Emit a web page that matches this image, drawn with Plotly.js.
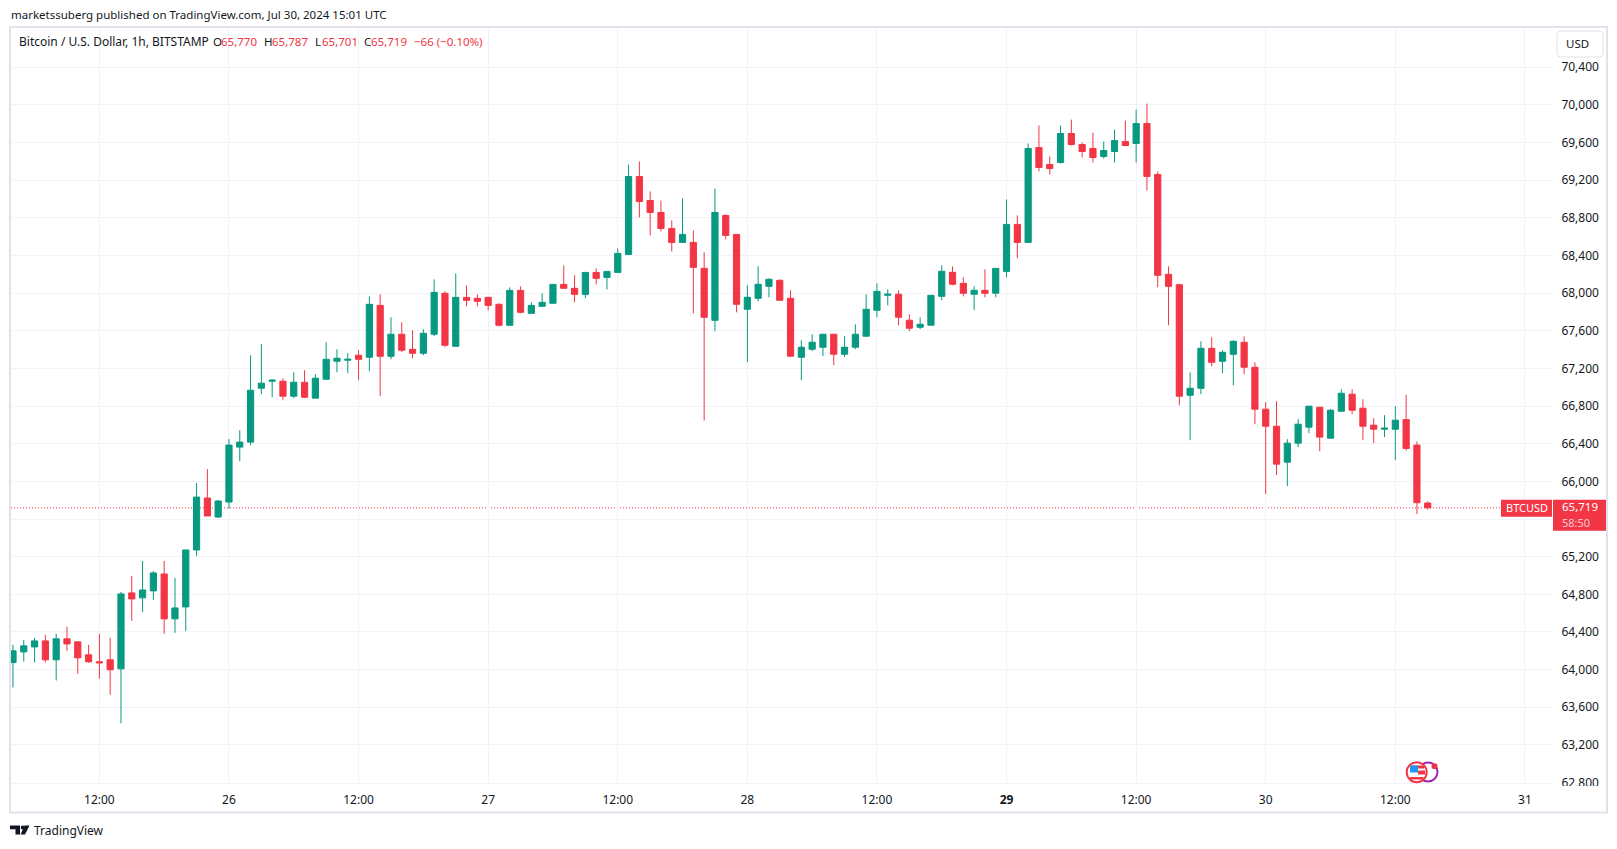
<!DOCTYPE html>
<html><head><meta charset="utf-8">
<script src="https://cdn.plot.ly/plotly-3.0.1.min.js"></script>
<style>html,body{margin:0;padding:0;background:#fff;overflow:hidden}#c{width:1617px;height:849px}</style>
</head><body><div id="c"></div>
<script>
const times = [
"2024-07-25 04:00","2024-07-25 05:00","2024-07-25 06:00","2024-07-25 07:00","2024-07-25 08:00","2024-07-25 09:00","2024-07-25 10:00","2024-07-25 11:00","2024-07-25 12:00","2024-07-25 13:00","2024-07-25 14:00","2024-07-25 15:00","2024-07-25 16:00","2024-07-25 17:00","2024-07-25 18:00","2024-07-25 19:00","2024-07-25 20:00","2024-07-25 21:00","2024-07-25 22:00","2024-07-25 23:00",
"2024-07-26 00:00","2024-07-26 01:00","2024-07-26 02:00","2024-07-26 03:00","2024-07-26 04:00","2024-07-26 05:00","2024-07-26 06:00","2024-07-26 07:00","2024-07-26 08:00","2024-07-26 09:00","2024-07-26 10:00","2024-07-26 11:00","2024-07-26 12:00","2024-07-26 13:00","2024-07-26 14:00","2024-07-26 15:00","2024-07-26 16:00","2024-07-26 17:00","2024-07-26 18:00","2024-07-26 19:00","2024-07-26 20:00","2024-07-26 21:00","2024-07-26 22:00","2024-07-26 23:00",
"2024-07-27 00:00","2024-07-27 01:00","2024-07-27 02:00","2024-07-27 03:00","2024-07-27 04:00","2024-07-27 05:00","2024-07-27 06:00","2024-07-27 07:00","2024-07-27 08:00","2024-07-27 09:00","2024-07-27 10:00","2024-07-27 11:00","2024-07-27 12:00","2024-07-27 13:00","2024-07-27 14:00","2024-07-27 15:00","2024-07-27 16:00","2024-07-27 17:00","2024-07-27 18:00","2024-07-27 19:00","2024-07-27 20:00","2024-07-27 21:00","2024-07-27 22:00","2024-07-27 23:00",
"2024-07-28 00:00","2024-07-28 01:00","2024-07-28 02:00","2024-07-28 03:00","2024-07-28 04:00","2024-07-28 05:00","2024-07-28 06:00","2024-07-28 07:00","2024-07-28 08:00","2024-07-28 09:00","2024-07-28 10:00","2024-07-28 11:00","2024-07-28 12:00","2024-07-28 13:00","2024-07-28 14:00","2024-07-28 15:00","2024-07-28 16:00","2024-07-28 17:00","2024-07-28 18:00","2024-07-28 19:00","2024-07-28 20:00","2024-07-28 21:00","2024-07-28 22:00","2024-07-28 23:00",
"2024-07-29 00:00","2024-07-29 01:00","2024-07-29 02:00","2024-07-29 03:00","2024-07-29 04:00","2024-07-29 05:00","2024-07-29 06:00","2024-07-29 07:00","2024-07-29 08:00","2024-07-29 09:00","2024-07-29 10:00","2024-07-29 11:00","2024-07-29 12:00","2024-07-29 13:00","2024-07-29 14:00","2024-07-29 15:00","2024-07-29 16:00","2024-07-29 17:00","2024-07-29 18:00","2024-07-29 19:00","2024-07-29 20:00","2024-07-29 21:00","2024-07-29 22:00","2024-07-29 23:00",
"2024-07-30 00:00","2024-07-30 01:00","2024-07-30 02:00","2024-07-30 03:00","2024-07-30 04:00","2024-07-30 05:00","2024-07-30 06:00","2024-07-30 07:00","2024-07-30 08:00","2024-07-30 09:00","2024-07-30 10:00","2024-07-30 11:00","2024-07-30 12:00","2024-07-30 13:00","2024-07-30 14:00","2024-07-30 15:00"];
const opens = [64075,64188,64241,64305,64104,64327,64295,64157,64083,64104,64008,64815,64762,64836,65016,64539,64666,65271,65823,65621,
65780,66364,66417,66990,67064,67064,66905,67053,66884,67085,67276,67287,67340,67319,67870,67329,67563,67403,67361,67563,67998,67435,67955,67945,
67955,67881,67658,68029,67785,67860,67892,68093,68051,67987,68220,68167,68220,68411,69239,68984,68857,68687,68539,68539,68263,67711,68825,68624,
67828,67945,68072,68136,67945,67319,67404,67425,67563,67351,67425,67542,67818,67977,67988,67712,67637,67659,67966,68221,68104,67988,68030,68000,
68231,68730,68539,69547,69367,69388,69696,69579,69537,69452,69505,69611,69590,69802,69261,68200,68089,66915,66989,67414,67276,67350,67478,67212,
66767,66586,66204,66406,66576,66788,66459,66745,66926,66777,66597,66554,66554,66656,66385,65770];
const highs = [64263,64316,64337,64369,64380,64454,64295,64263,64380,64337,64825,64995,65154,65048,65154,64974,65271,65982,66130,65801,
66449,66544,67340,67457,67085,67096,67159,67181,67138,67478,67403,67361,67393,67966,67987,67743,67690,67605,67616,68146,68019,68210,68083,67987,
67955,67892,68061,68072,67902,67998,68093,68295,68189,68220,68263,68231,68475,69366,69398,69080,68984,68772,69006,68666,68433,69112,68836,68624,
68083,68285,68157,68147,68030,67499,67563,67563,67563,67542,67669,67988,68104,68041,68030,67775,67743,67977,68295,68285,68168,68072,68253,68263,
68995,68826,69590,69781,69452,69781,69844,69600,69706,69611,69738,69834,69950,70014,69293,68284,68100,67159,67488,67531,67393,67499,67541,67265,
66841,66852,66448,66661,66799,66788,66767,66979,66979,66873,66671,66703,66799,66919,66423,65787];
const lows = [63810,64086,64075,64075,63884,64199,63955,64072,63902,63732,63430,64518,64613,64740,64380,64390,64411,65207,65632,65610,
65709,66215,66385,66926,66894,66862,66884,66884,66884,67085,67159,67149,67075,67170,66905,67297,67372,67308,67340,67542,67425,67435,67860,67860,
67817,67647,67658,67785,67785,67860,67892,68051,67902,67945,68093,68040,68220,68411,68804,68613,68655,68443,68539,67785,66645,67594,68571,67796,
67266,67913,67956,67924,67330,67075,67383,67330,67234,67319,67404,67542,67743,67871,67659,67595,67616,67659,67924,68083,67966,67818,67956,67956,
68168,68369,68539,69293,69261,69377,69568,69441,69388,69430,69388,69568,69388,69091,68062,67658,66809,66438,66926,67223,67149,67021,67138,66607,
65865,66066,65950,66363,66512,66321,66459,66745,66714,66438,66406,66470,66225,66328,65653,65701];
const closes = [64199,64252,64305,64104,64327,64273,64125,64083,64072,63998,64804,64751,64846,65027,64539,64655,65271,65833,65632,65791,
66385,66417,66968,67043,67075,66905,67053,66894,67096,67297,67308,67297,67297,67881,67329,67563,67393,67361,67573,68008,67446,67955,67923,67913,
67870,67658,68029,67796,67870,67902,68093,68051,67987,68220,68157,68231,68422,69239,68974,68857,68687,68539,68624,68274,67743,68857,68613,67881,
67956,68094,68147,67924,67330,67425,67478,67563,67351,67425,67563,67828,68019,67988,67744,67627,67669,67977,68232,68094,67998,68030,67998,68263,
68730,68539,69537,69335,69324,69696,69579,69505,69441,69515,69621,69568,69802,69240,68189,68072,66905,66989,67414,67265,67371,67488,67212,66767,
66586,66183,66406,66607,66799,66470,66756,66936,66756,66586,66554,66565,66650,66350,65773,65719];
const timeTickVals = ["2024-07-25 12:00","2024-07-26 00:00","2024-07-26 12:00","2024-07-27 00:00","2024-07-27 12:00","2024-07-28 00:00","2024-07-28 12:00","2024-07-29 00:00","2024-07-29 12:00","2024-07-30 00:00","2024-07-30 12:00","2024-07-31 00:00"];
const timeTickText = ["12:00","26","12:00","27","12:00","28","12:00","<b>29</b>","12:00","30","12:00","31"];
const priceTickVals = [62800,63200,63600,64000,64400,64800,65200,65600,66000,66400,66800,67200,67600,68000,68400,68800,69200,69600,70000,70400];
const priceTickText = ["62,800","63,200","63,600","64,000","64,400","64,800","65,200","","66,000","66,400","66,800","67,200","67,600","68,000","68,400","68,800","69,200","69,600","70,000","70,400"];
const lastPrice = 65719;

const INK='#131722', RED='#f23645', GREEN='#089981', GRID='#f0f3fa', FRAME='#e0e3eb';
const W=1617,H=849,L=11,R=1553,T=28,B=783.5;
const FONT='"Noto Sans", sans-serif';
const px=x=>(x-L)/(R-L), py=y=>(B-y)/(B-T);
const note=(text,x,y,o={})=>Object.assign({text,xref:'paper',yref:'paper',x:px(x),y:py(y),xanchor:'left',yanchor:'middle',showarrow:false,borderpad:0,font:{family:FONT,size:11.5,color:INK}},o);
const redFont={family:FONT,size:11.5,color:RED};
const rect=(x0,y0,x1,y1,fill,line)=>({type:'rect',xref:'paper',yref:'paper',x0:px(x0),x1:px(x1),y0:py(y0),y1:py(y1),fillcolor:fill,line:line||{width:0},layer:'above'});
const circ=(cx,cy,r,fill,lc,lw)=>({type:'circle',xref:'paper',yref:'paper',x0:px(cx-r),x1:px(cx+r),y0:py(cy-r),y1:py(cy+r),fillcolor:fill,line:{color:lc||fill,width:lw||0},layer:'above'});
const poly=(pts,fill)=>({type:'path',xref:'paper',yref:'paper',path:'M'+pts.map(p=>px(p[0])+','+py(p[1])).join('L')+'Z',fillcolor:fill,line:{width:0},layer:'above'});

const shapes=[
 {type:'line',xref:'paper',yref:'y',x0:0,x1:px(1501),y0:lastPrice,y1:lastPrice,line:{color:RED,width:1,dash:'1px,2px'},layer:'below'},
 // frame
 rect(9,26,1607,28,FRAME),rect(9,26,11,814,FRAME),rect(9,812,1607,814,FRAME),rect(1606,26,1608,814,FRAME),
 // clip of the lowest price label
 rect(1553,786.5,1606,800,'#ffffff'),
 // labels of last price
 rect(1501,500,1552,517,RED),rect(1553,500,1606,531,RED),
 // USD button
 {type:'path',xref:'paper',yref:'paper',layer:'above',fillcolor:'#ffffff',line:{color:FRAME,width:1},
  path:`M${px(1561)},${py(31)}L${px(1599)},${py(31)}Q${px(1603)},${py(31)} ${px(1603)},${py(35)}L${px(1603)},${py(53)}Q${px(1603)},${py(57)} ${px(1599)},${py(57)}L${px(1561)},${py(57)}Q${px(1557)},${py(57)} ${px(1557)},${py(53)}L${px(1557)},${py(35)}Q${px(1557)},${py(31)} ${px(1561)},${py(31)}Z`},
 // economic event icons
 circ(1428,772.5,9.5,'#ffffff','#9c27b0',2),
 circ(1416.7,772.7,10,'#ffffff',RED,2),
 rect(1410,766,1424,769,RED),rect(1410,766,1418,773,'#2196f3'),rect(1418,771,1425,775,RED),rect(1410,777.5,1423.5,780,RED),
 circ(1434.5,766.7,3,RED),
 // logo
 poly([[10,826],[20,826],[20,835],[15.5,835],[15.5,829.8],[10,829.8]],INK),
 circ(22.7,828,2,INK),
 poly([[24.5,826],[29.5,826],[25,835],[20.5,835]],INK)
];

const A=[
 note('marketssuberg published on TradingView.com, Jul 30, 2024 15:01 UTC',10,14.7),
 note('Bitcoin / U.S. Dollar, 1h, BITSTAMP',18,41.7,{font:{family:FONT,size:12,color:INK}}),
 note('O',212,41.7),note('65,770',220,41.7,{font:redFont}),
 note('H',263,41.7),note('65,787',271,41.7,{font:redFont}),
 note('L',314,41.7),note('65,701',321,41.7,{font:redFont}),
 note('C',363,41.7),note('65,719',370,41.7,{font:redFont}),
 note('−66 (−0.10%)',413,41.7,{font:redFont}),
 note('USD',1577,44,{xanchor:'center'}),
 note('BTCUSD',1526.5,508,{xanchor:'center',font:{family:FONT,size:11,color:'#ffffff'}}),
 note('65,719',1561,507,{font:{family:FONT,size:11.5,color:'#ffffff'}}),
 note('58:50',1561,522.5,{font:{family:FONT,size:11,color:'#fcc9cf'}}),
 note('TradingView',33,831.5,{font:{family:FONT,size:12,color:INK}})
];

Plotly.newPlot('c',[{type:'candlestick',x:times,open:opens,high:highs,low:lows,close:closes,whiskerwidth:0,
  increasing:{line:{color:GREEN,width:1},fillcolor:GREEN},decreasing:{line:{color:RED,width:1},fillcolor:RED},hoverinfo:'skip'}],
 {width:W,height:H,margin:{l:L,r:W-R,t:T,b:H-B,pad:0},paper_bgcolor:'#fff',plot_bgcolor:'#fff',showlegend:false,boxgap:0.18,
  font:{family:FONT,size:12,color:INK},
  xaxis:{type:'date',range:['2024-07-25 03:49','2024-07-31 02:36'],rangeslider:{visible:false},tickmode:'array',tickvals:timeTickVals,ticktext:timeTickText,
    showgrid:true,gridcolor:GRID,gridwidth:1,zeroline:false,showline:true,linecolor:GRID,linewidth:1,ticks:'outside',ticklen:6,tickcolor:'rgba(0,0,0,0)',tickangle:0,tickfont:{family:FONT,size:12,color:INK}},
  yaxis:{side:'right',range:[62795,70817],tickmode:'array',tickvals:priceTickVals,ticktext:priceTickText,showgrid:true,gridcolor:GRID,gridwidth:1,zeroline:false,showline:false,ticks:'outside',ticklen:5,tickcolor:'rgba(0,0,0,0)',tickfont:{family:FONT,size:12,color:INK},automargin:false},
  shapes,annotations:A},
 {staticPlot:true,displayModeBar:false});
</script></body></html>
